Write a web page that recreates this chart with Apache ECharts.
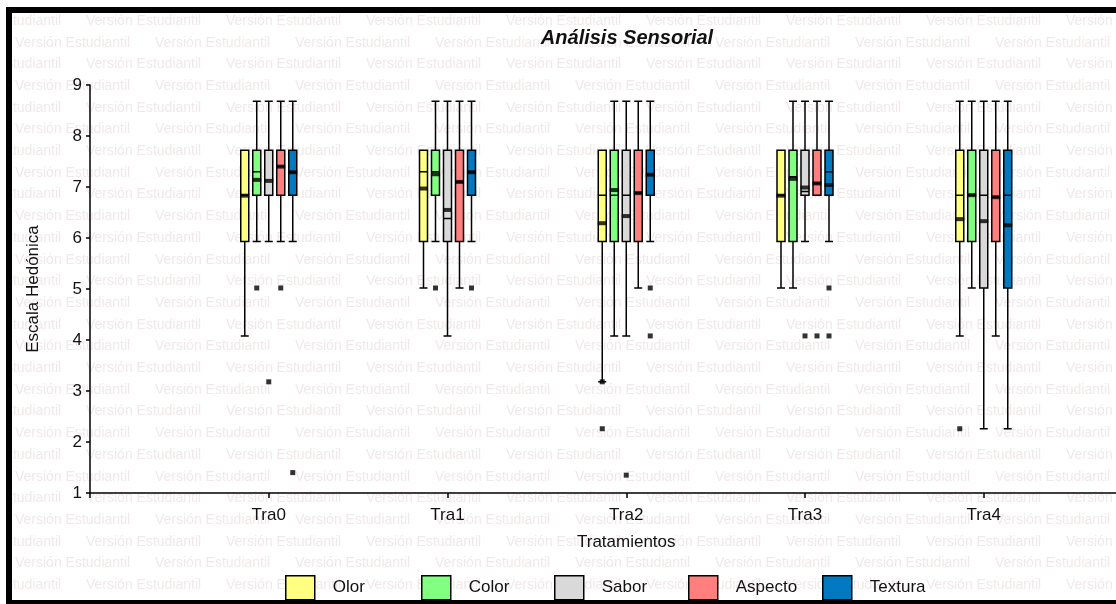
<!DOCTYPE html>
<html>
<head>
<meta charset="utf-8">
<script src="https://cdn.jsdelivr.net/npm/echarts@6/dist/echarts.min.js"></script>
<style>
html, body { margin: 0; padding: 0; background: #fff; }
#main { width: 1116px; height: 604px; }
</style>
</head>
<body>
<div id="main"></div>
<script>
var categories = ['Tra0', 'Tra1', 'Tra2', 'Tra3', 'Tra4'];
var seriesNames = ['Olor', 'Color', 'Sabor', 'Aspecto', 'Textura'];
var colors = ['#ffff80', '#80ff80', '#d9d9d9', '#ff7f7f', '#0079c1'];

// [min, Q1, median, Q3, max] per treatment
var olorBox = [
    [4.08, 5.93, 6.84, 7.72, 7.72],
    [5.02, 5.93, 7.30, 7.72, 7.72],
    [3.18, 5.93, 6.84, 7.72, 7.72],
    [5.02, 5.93, 6.84, 7.72, 7.72],
    [4.08, 5.93, 6.84, 7.72, 8.68]
];
var colorBox = [
    [5.93, 6.84, 7.30, 7.72, 8.68],
    [5.93, 6.84, 7.30, 7.72, 8.68],
    [4.08, 5.93, 6.84, 7.72, 8.68],
    [5.02, 5.93, 7.20, 7.72, 8.68],
    [5.02, 5.93, 6.84, 7.72, 8.68]
];
var saborBox = [
    [5.93, 6.84, 6.84, 7.72, 8.68],
    [4.08, 5.93, 6.38, 7.72, 8.68],
    [4.08, 5.93, 6.84, 7.72, 8.68],
    [5.93, 6.84, 6.91, 7.72, 8.68],
    [2.26, 5.02, 6.84, 7.72, 8.68]
];
var aspectoBox = [
    [5.93, 6.84, 7.40, 7.72, 8.68],
    [5.02, 5.93, 7.10, 7.72, 8.68],
    [5.02, 5.93, 6.88, 7.72, 8.68],
    [6.84, 6.84, 7.07, 7.72, 8.68],
    [4.08, 5.93, 6.80, 7.72, 8.68]
];
var texturaBox = [
    [5.93, 6.84, 7.29, 7.72, 8.68],
    [5.93, 6.84, 7.30, 7.72, 8.68],
    [5.93, 6.84, 7.24, 7.72, 8.68],
    [5.93, 6.84, 7.30, 7.72, 8.68],
    [2.26, 5.02, 6.84, 7.72, 8.68]
];

// means (thick bar)
var olorMean = [6.83, 6.97, 6.29, 6.83, 6.37];
var colorMean = [7.14, 7.25, 6.94, 7.16, 6.84];
var saborMean = [7.12, 6.55, 6.43, 6.99, 6.33];
var aspectoMean = [7.40, 7.10, 6.88, 7.07, 6.80];
var texturaMean = [7.29, 7.29, 7.24, 7.04, 6.25];

// outliers: [treatment index, value]
var olorOut = [[2, 3.18], [2, 2.26], [4, 2.26]];
var colorOut = [[0, 5.02], [1, 5.02]];
var saborOut = [[0, 3.18], [2, 1.35], [3, 4.08]];
var aspectoOut = [[0, 5.02], [3, 4.08]];
var texturaOut = [[0, 1.4], [1, 5.02], [2, 5.02], [2, 4.08], [3, 5.02], [3, 4.08]];

var boxes = [olorBox, colorBox, saborBox, aspectoBox, texturaBox];
var means = [olorMean, colorMean, saborMean, aspectoMean, texturaMean];
var outs = [olorOut, colorOut, saborOut, aspectoOut, texturaOut];

var myChart = echarts.init(document.getElementById('main'));

// each variable gets its own grid, shifted a few px so boxes sit side by side
var plotLeft = 90, plotTop = 85, plotHeight = 408, plotWidth = 1072.5;
var shift = [-24, -12, 0, 12, 24];
var font = 'Liberation Sans';
var txt = '#111';

var grids = [], xAxes = [], yAxes = [], series = [], legends = [];
var legendLeft = [285, 421, 554, 688, 822];

seriesNames.forEach(function (name, s) {
    var main = s === 2;
    grids.push({
        left: plotLeft + shift[s], top: plotTop, width: plotWidth, height: plotHeight,
        outerBoundsMode: 'none', containLabel: false
    });
    xAxes.push({
        gridIndex: s,
        type: 'value',
        min: 0,
        max: 6,
        interval: 1,
        show: main,
        name: 'Tratamientos',
        nameLocation: 'middle',
        nameGap: 41,
        nameTextStyle: {fontSize: 17, color: txt, fontFamily: font},
        axisLine: {show: true, onZero: false, lineStyle: {color: '#000', width: 1.5}},
        axisTick: {show: true, length: 5, lineStyle: {color: '#000', width: 1.5}},
        axisLabel: {
            margin: 14, fontSize: 17, color: txt, fontFamily: font,
            formatter: function (v) { return categories[Math.round(v) - 1] || ''; }
        },
        splitLine: {show: false}
    });
    yAxes.push({
        gridIndex: s,
        type: 'value',
        min: 1,
        max: 9,
        interval: 1,
        show: main,
        name: 'Escala Hedónica',
        nameLocation: 'middle',
        nameGap: 48,
        nameRotate: 90,
        nameTextStyle: {fontSize: 17, color: txt, fontFamily: font},
        axisLine: {show: true, lineStyle: {color: '#000', width: 1.5}},
        axisTick: {show: true, length: 4, lineStyle: {color: '#000', width: 1.5}},
        axisLabel: {margin: 8, fontSize: 17, color: txt, fontFamily: font},
        splitLine: {show: false}
    });

    series.push({
        name: name,
        type: 'boxplot',
        xAxisIndex: s,
        yAxisIndex: s,
        boxWidth: [8, 8],
        itemStyle: {color: colors[s], borderColor: '#000', borderWidth: 1.5},
        emphasis: {disabled: true},
        data: boxes[s].map(function (b, i) { return [i + 1].concat(b); })
    });
    series.push({
        name: name + ' media',
        type: 'scatter',
        xAxisIndex: s,
        yAxisIndex: s,
        z: 4,
        symbol: 'rect',
        symbolSize: [9, 4],
        itemStyle: {color: '#000'},
        data: means[s].map(function (m, i) { return [i + 1, m]; })
    });
    series.push({
        name: name + ' atípicos',
        type: 'scatter',
        xAxisIndex: s,
        yAxisIndex: s,
        z: 4,
        symbol: 'rect',
        symbolSize: 5,
        itemStyle: {color: '#000'},
        data: outs[s].map(function (o) { return [o[0] + 1, o[1]]; })
    });

    legends.push({
        data: [name],
        left: legendLeft[s],
        top: 575,
        padding: 0,
        icon: 'rect',
        itemWidth: 29,
        itemHeight: 24,
        itemStyle: {color: colors[s], borderColor: '#000', borderWidth: 1.5},
        textStyle: {fontSize: 17, color: txt, fontFamily: font, padding: [0, 0, 0, 13]},
        selectedMode: false
    });
});

// faint watermark text
var graphics = [];
for (var r = 0; r < 28; r++) {
    var start = r % 2 === 0 ? -54 : 15;
    for (var c = 0; c < 9; c++) {
        graphics.push({
            type: 'text',
            z: -10,
            silent: true,
            x: start + c * 140,
            y: 21 + r * 21.7,
            style: {
                text: 'Versión Estudiantil',
                fill: '#f1e9e9',
                font: '14px "Liberation Sans"',
                verticalAlign: 'middle'
            }
        });
    }
}
graphics.push({type: 'rect', z: -5, silent: true, shape: {x: 0, y: 0, width: 6, height: 604}, style: {fill: '#fff'}});
graphics.push({type: 'rect', z: -5, silent: true, shape: {x: 0, y: 0, width: 1116, height: 7}, style: {fill: '#fff'}});
graphics.push({type: 'rect', z: 10, silent: true, shape: {x: 9, y: 10, width: 1200, height: 593}, style: {fill: 'none', stroke: '#000', lineWidth: 6}});

var option = {
    backgroundColor: '#fff',
    animation: false,
    title: {
        text: 'Análisis Sensorial',
        left: 622,
        top: 23,
        textAlign: 'center',
        textStyle: {fontSize: 20, fontWeight: 'bold', fontStyle: 'italic', color: txt, fontFamily: font}
    },
    legend: legends,
    grid: grids,
    xAxis: xAxes,
    yAxis: yAxes,
    series: series,
    graphic: graphics
};

myChart.setOption(option);
</script>
</body>
</html>
